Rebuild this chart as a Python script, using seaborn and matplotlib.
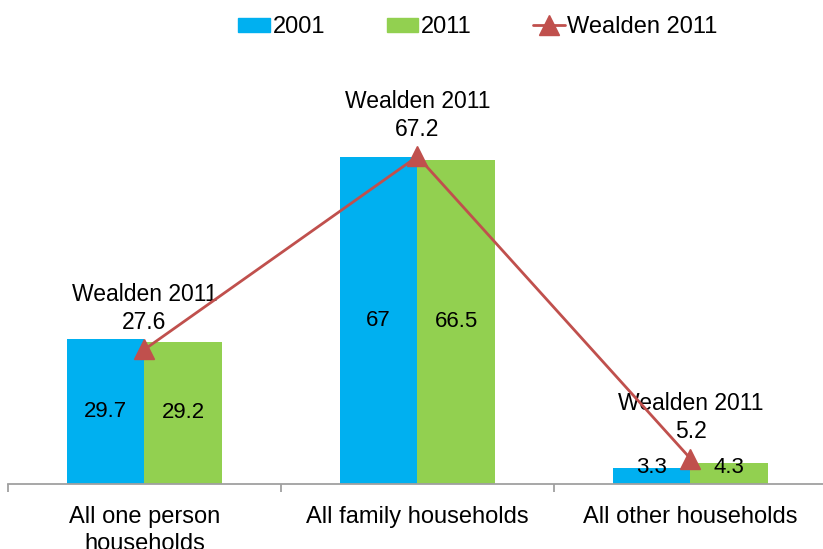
import matplotlib
matplotlib.use('Agg')
import matplotlib.pyplot as plt
from matplotlib.patches import Patch
from matplotlib.lines import Line2D
import pandas as pd
import seaborn as sns

categories = ["All one person\nhouseholds", "All family households", "All other households"]
values_2001 = [29.7, 67, 3.3]
values_2011 = [29.2, 66.5, 4.3]
wealden_2011 = [27.6, 67.2, 5.2]

blue = "#00B0F0"
green = "#92D050"
red = "#C0504D"

sns.set_style("white")
plt.rcParams['font.family'] = ['Liberation Sans', 'DejaVu Sans']
plt.rcParams['text.color'] = 'black'

df = pd.DataFrame({
    "category": categories * 2,
    "value": values_2001 + values_2011,
    "year": ["2001"] * 3 + ["2011"] * 3,
})

fig = plt.figure(figsize=(8.23, 5.49), dpi=100)
ax = fig.add_axes([8 / 823, 1 - 484 / 549, 819 / 823, 390 / 549])

sns.barplot(data=df, x="category", y="value", hue="year", order=categories,
            hue_order=["2001", "2011"], palette=[blue, green], width=0.57,
            gap=0, saturation=1, linewidth=0, legend=False, ax=ax)

# bar value labels, centred in each bar
for i, (a, b) in enumerate(zip(values_2001, values_2011)):
    off = 0.57 / 4
    ax.text(i - off, max(a / 2, 3.3), f"{a:g}", ha="center", va="center", fontsize=16, color="black")
    ax.text(i + off, max(b / 2, 3.3), f"{b:g}", ha="center", va="center", fontsize=16, color="black")

# Wealden line
ax.plot(range(len(categories)), wealden_2011, color=red, lw=2, marker="^",
        markersize=14, zorder=5)
for i, v in enumerate(wealden_2011):
    ax.annotate(f"Wealden 2011\n{v:g}", (i, v), xytext=(0, 11), textcoords="offset points",
                ha="center", va="bottom", fontsize=16.5, linespacing=1.3, color="black")

ax.set_xlim(-0.5, 2.5)
ax.set_ylim(0, 80)
ax.set_yticks([])
ax.set_xlabel("")
ax.set_ylabel("")
for s in ["top", "right", "left"]:
    ax.spines[s].set_visible(False)
ax.spines["bottom"].set_color("#A0A0A0")
ax.spines["bottom"].set_linewidth(1.3)

ax.set_xticks([-0.5, 0.5, 1.5, 2.5])
ax.set_xticklabels([])
ax.tick_params(axis="x", which="major", length=6, width=1.3, color="#A0A0A0", direction="out", bottom=True)
ax.set_xticks([0, 1, 2], minor=True)
ax.set_xticklabels(categories, minor=True, fontsize=17, color="black", linespacing=1.3)
ax.tick_params(axis="x", which="minor", length=0, pad=16)

handles = [Patch(color=blue, label="2001"), Patch(color=green, label="2011"),
           Line2D([], [], color=red, lw=2, marker="^", markersize=14, label="Wealden 2011")]
fig.legend(handles=handles, loc="center", bbox_to_anchor=(478 / 823, 1 - 27 / 549), ncol=3,
           frameon=False, fontsize=17, handlelength=1.35, handleheight=0.55,
           columnspacing=2.6, handletextpad=0.1, labelcolor="black")

fig.savefig("out.png", dpi=100)
